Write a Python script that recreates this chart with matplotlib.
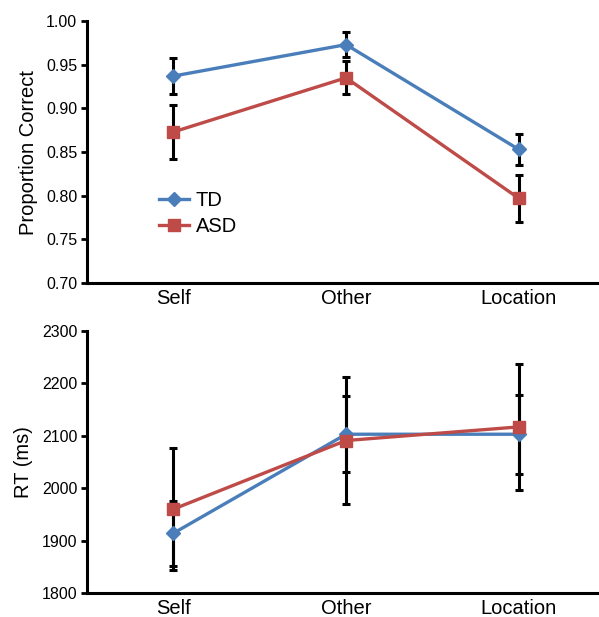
import numpy as np
import matplotlib
matplotlib.use("Agg")
from matplotlib import pyplot as plt

plt.rcParams['font.family'] = ['Liberation Sans', 'DejaVu Sans']

conditions = ['Self', 'Other', 'Location']
groups = ['TD', 'ASD']
colors = {'TD': '#4a7ebb', 'ASD': '#be4b48'}
markers = {'TD': 'D', 'ASD': 's'}

# proportion correct (mean, error)
acc_td = [0.937, 0.973, 0.853]
acc_td_err = [0.021, 0.014, 0.018]
acc_asd = [0.873, 0.935, 0.797]
acc_asd_err = [0.031, 0.019, 0.027]

# reaction time in ms (mean, error)
rt_td = [1914, 2103, 2103]
rt_td_err = [62, 73, 75]
rt_asd = [1960, 2091, 2117]
rt_asd_err = [117, 122, 121]

acc_ticks = [0.70, 0.75, 0.80, 0.85, 0.90, 0.95, 1.00]
rt_ticks = [1800, 1900, 2000, 2100, 2200, 2300]

fig = plt.figure(figsize=(5.99, 6.17), dpi=100)
ax1 = fig.add_axes([0.1452, 0.5413, 0.865, 0.4246])
ax2 = fig.add_axes([0.1452, 0.0389, 0.865, 0.4246])

x = np.arange(len(conditions)) + 0.5

def draw(ax, data, ticks, fmt, ylabel, legend=False):
    for g, (m, e) in data.items():
        ax.errorbar(x, m, yerr=e, fmt='none', ecolor='black', elinewidth=2.2,
                    capsize=3, capthick=2.2, zorder=2)
    for g, (m, e) in data.items():
        ms = 7 if markers[g] == 'D' else 8.5
        ax.plot(x, m, color=colors[g], marker=markers[g], markersize=ms,
                linewidth=2.4, label=g, zorder=3)
    ax.set_xlim(0, 3)
    ax.set_ylim(ticks[0], ticks[-1])
    ax.set_yticks(ticks)
    ax.set_yticklabels([fmt.format(t) for t in ticks], fontsize=11.5)
    ax.set_xticks(x)
    ax.set_xticklabels(conditions, fontsize=14.5)
    ax.tick_params(axis='x', length=0, pad=4)
    ax.tick_params(axis='y', length=4, width=2, pad=3)
    for s in ['top', 'right']:
        ax.spines[s].set_visible(False)
    for s in ['left', 'bottom']:
        ax.spines[s].set_linewidth(2.2)
    ax.set_ylabel(ylabel, fontsize=14.5, labelpad=6)
    if legend:
        ax.legend(loc='upper left', bbox_to_anchor=(0.12, 0.39), frameon=False,
                  fontsize=14.5, handlelength=1.5, handletextpad=0.3,
                  labelspacing=0.35, borderpad=0)

draw(ax1, {'TD': (acc_td, acc_td_err), 'ASD': (acc_asd, acc_asd_err)},
     acc_ticks, '{:.2f}', 'Proportion Correct', legend=True)
draw(ax2, {'TD': (rt_td, rt_td_err), 'ASD': (rt_asd, rt_asd_err)},
     rt_ticks, '{:d}', 'RT (ms)')

fig.savefig('out.png', dpi=100)
